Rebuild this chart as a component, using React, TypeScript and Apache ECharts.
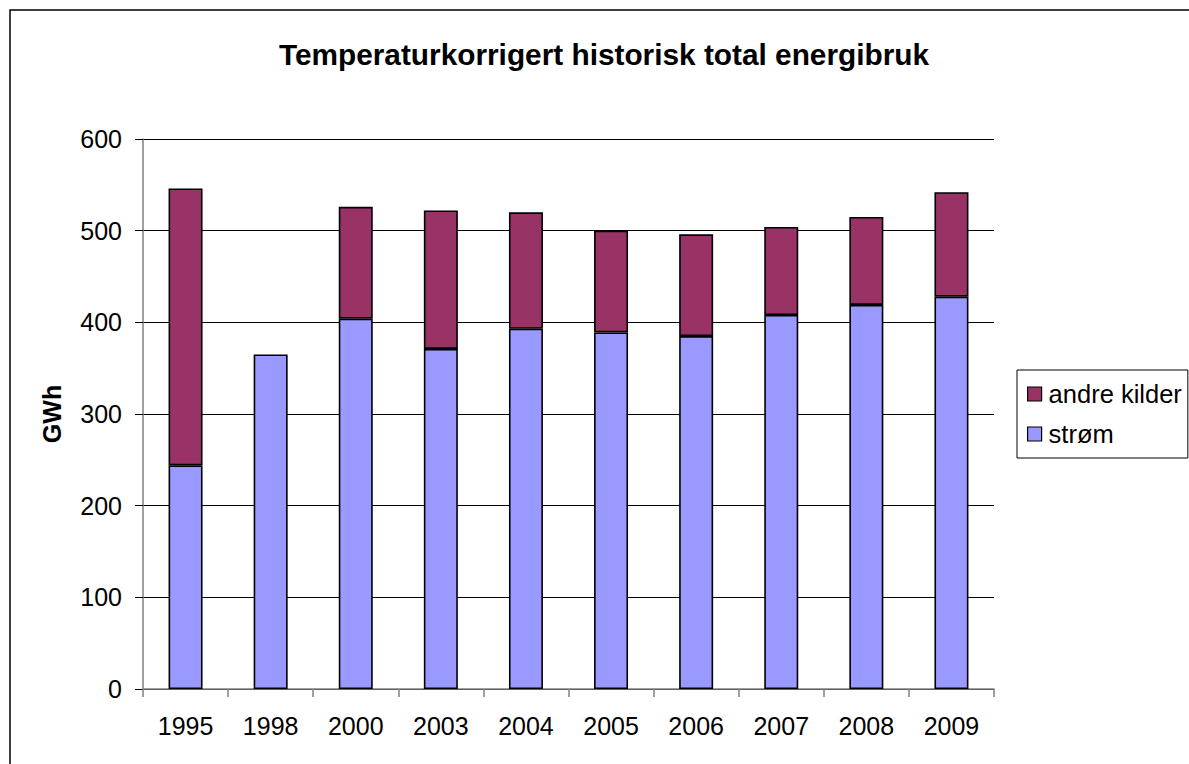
import React, { useEffect, useRef } from "react";
import * as echarts from "echarts";

const categories = ["1995", "1998", "2000", "2003", "2004", "2005", "2006", "2007", "2008", "2009"];
const stromValues = [244, 365, 404, 371, 393, 389, 385, 408, 419, 428];
const andreValues: (number | null)[] = [302, null, 122, 151, 127, 111, 111, 96, 96, 114];
const yTicks = { min: 0, max: 600, interval: 100 };
const titleText = "Temperaturkorrigert historisk total energibruk";
const yName = "GWh";

const FONT = "'Liberation Sans', Arial, sans-serif";

export default function App() {
  const ref = useRef<HTMLDivElement>(null);
  useEffect(() => {
    if (!ref.current) return;
    const chart = echarts.init(ref.current, undefined, { renderer: "svg" });
    chart.setOption({
      animation: false,
      backgroundColor: "#ffffff",
      textStyle: { fontFamily: FONT, color: "#000" },
      graphic: [
        {
          type: "rect",
          shape: { x: 10, y: 10, width: 1400, height: 1000 },
          style: { fill: "none", stroke: "#000", lineWidth: 1.5 },
          silent: true,
          z: 0,
        },
        {
          type: "text",
          x: 604,
          y: 54,
          style: {
            text: titleText,
            font: `bold 29.8px ${FONT}`,
            fill: "#000",
            align: "center",
            verticalAlign: "middle",
          },
        },
        {
          type: "text",
          x: 52,
          y: 414,
          rotation: Math.PI / 2,
          style: {
            text: yName,
            font: `bold 25px ${FONT}`,
            fill: "#000",
            align: "center",
            verticalAlign: "middle",
          },
        },
      ],
      grid: { left: 143, top: 139, width: 851, height: 550, containLabel: false },
      legend: {
        orient: "vertical",
        left: 1017,
        top: 370,
        data: ["andre kilder", "strøm"],
        itemWidth: 14,
        itemHeight: 14,
        itemGap: 14,
        padding: [11, 6, 11, 10],
        borderColor: "#000",
        borderWidth: 1,
        backgroundColor: "#fff",
        icon: "rect",
        itemStyle: { borderColor: "#000", borderWidth: 1.2 },
        textStyle: { fontFamily: FONT, fontSize: 25.5, color: "#000", padding: [0, 0, 0, 2] },
      },
      xAxis: {
        type: "category",
        data: categories,
        axisLine: { lineStyle: { color: "#808080", width: 1.5 } },
        axisTick: { show: true, length: 8, lineStyle: { color: "#808080", width: 1.5 } },
        axisLabel: { fontFamily: FONT, fontSize: 25, color: "#000", margin: 24 },
      },
      yAxis: {
        type: "value",
        min: yTicks.min,
        max: yTicks.max,
        interval: yTicks.interval,
        axisLine: { show: true, lineStyle: { color: "#808080", width: 1.5 } },
        axisTick: { show: true, length: 8, lineStyle: { color: "#000", width: 1 } },
        axisLabel: { fontFamily: FONT, fontSize: 25, color: "#000", margin: 21 },
        splitLine: { lineStyle: { color: "#000", width: 1 } },
      },
      series: [
        {
          name: "strøm",
          type: "bar",
          stack: "total",
          data: stromValues,
          barWidth: 34,
          itemStyle: { color: "#9999FF", borderColor: "#000", borderWidth: 1.6 },
        },
        {
          name: "andre kilder",
          type: "bar",
          stack: "total",
          data: andreValues,
          barWidth: 34,
          itemStyle: { color: "#993366", borderColor: "#000", borderWidth: 1.6 },
        },
      ],
    });
    return () => chart.dispose();
  }, []);
  return (
    <div
      ref={ref}
      style={{ position: "absolute", left: 0, top: 0, width: 1189, height: 764 }}
    />
  );
}
